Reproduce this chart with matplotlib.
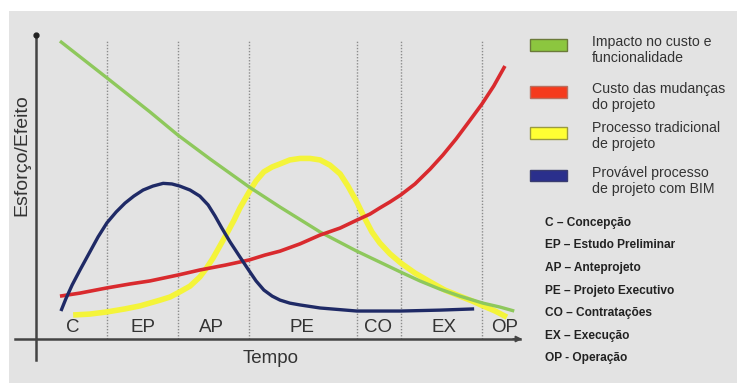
import numpy as np
import matplotlib
matplotlib.use("Agg")
import matplotlib.pyplot as plt
from matplotlib.patches import Rectangle

plt.rcParams["font.family"] = ["Liberation Sans", "DejaVu Sans"]

W, H = 737, 383
X0, Y0, SX, SY = 36, 339, 4.89, 3.04   # pixel origin and scale of the 0-100 chart units

# phases along the time axis
phases = ["C", "EP", "AP", "PE", "CO", "EX", "OP"]
phase_centers = [7.6, 21.9, 35.8, 54.4, 69.9, 83.4, 95.9]
phase_bounds = [14.5, 29.0, 43.6, 65.6, 74.6, 91.2]

# curves read along the time axis (chart units, 0-100)
# impact on cost and functionality
green_x = [4.9, 14.5, 23.3, 29.0, 35.6, 43.6, 49.9, 58.1, 65.6, 70.3, 74.6, 78.5,
           82.6, 86.7, 91.4, 94.9, 97.8]
green_y = [98.0, 85.9, 74.7, 67.1, 59.2, 50.0, 43.4, 35.2, 28.9, 25.3, 22.0, 19.1,
           16.4, 14.1, 11.8, 10.5, 9.2]

# cost of design changes
red_x = [4.9, 9.0, 14.5, 19.2, 23.3, 29.2, 33.5, 38.7, 43.6, 46.8, 49.9, 54.0, 58.1,
         62.2, 65.6, 68.3, 70.3, 72.4, 74.6, 77.5, 80.6, 83.2, 85.9, 88.5, 91.2, 93.6, 95.9]
red_y = [14.1, 15.1, 16.8, 18.1, 19.1, 21.1, 22.7, 24.3, 26.0, 27.6, 28.9, 31.3, 34.2,
         36.5, 39.1, 41.1, 43.1, 45.1, 47.4, 51.0, 55.9, 60.5, 65.8, 71.4, 77.3, 83.2, 89.8]

# traditional design process
yellow_x = [7.6, 11.0, 14.5, 18.2, 21.3, 25.4, 27.4, 29.4, 31.5, 33.5, 34.9, 36.2,
            37.6, 39.1, 40.5, 41.7, 43.6, 45.0, 46.6, 48.3, 49.9, 51.9, 54.0, 56.0,
            58.1, 60.1, 62.2, 63.8, 65.6, 67.3, 68.7, 70.3, 72.4, 74.6, 77.5, 80.6,
            83.6, 86.7, 89.2, 91.4, 93.9, 96.3]
yellow_y = [7.9, 8.2, 8.9, 9.9, 10.9, 12.8, 13.8, 15.5, 17.4, 20.4, 23.4, 26.6,
            30.6, 34.9, 39.1, 43.1, 48.4, 52.0, 55.0, 56.6, 57.6, 58.9, 59.4, 59.4,
            58.9, 57.2, 54.3, 50.3, 45.1, 39.5, 35.2, 31.6, 28.0, 25.0, 21.7, 18.8,
            16.1, 14.1, 12.5, 10.9, 9.2, 7.2]

# design process with BIM
blue_x = [5.1, 6.1, 7.4, 9.0, 11.0, 12.7, 14.5, 16.4, 18.2, 20.0, 21.9, 23.9, 26.0,
          27.8, 29.4, 31.5, 33.5, 35.2, 36.6, 38.0, 39.7, 41.7, 43.6, 45.0, 46.6,
          48.3, 49.9, 51.9, 54.0, 58.1, 65.6, 74.6, 82.6, 89.6]
blue_y = [9.2, 13.2, 17.8, 22.7, 28.6, 33.6, 38.2, 41.8, 44.7, 47.0, 49.0, 50.3, 51.2,
          51.0, 50.3, 49.0, 47.0, 44.1, 40.5, 36.5, 31.9, 27.0, 22.4, 19.1, 16.1,
          14.1, 12.8, 11.8, 11.2, 10.2, 9.2, 9.2, 9.5, 9.9]

legend_labels = ["Impacto no custo e\nfuncionalidade",
                 "Custo das mudanças\ndo projeto",
                 "Processo tradicional\nde projeto",
                 "Provável processo\nde projeto com BIM"]
legend_colors = ["#8cc63f", "#f53a1c", "#ffff33", "#2a2f8c"]
legend_edges = ["#6b7a3a", "#b87060", "#9a9a40", "#3a3d70"]

abbrevs = ["C – Concepção", "EP – Estudo Preliminar", "AP – Anteprojeto",
           "PE – Projeto Executivo", "CO – Contratações", "EX – Execução",
           "OP - Operação"]

fig = plt.figure(figsize=(W / 100, H / 100), dpi=100)
fig.patch.set_facecolor("white")


def fx(px):
    return px / W


def fy(py):
    return 1 - py / H


# grey panel
fig.add_artist(Rectangle((fx(9), 0), 1 - fx(9), fy(11), transform=fig.transFigure,
                         facecolor="#e3e3e3", edgecolor="none", zorder=0))

ax = fig.add_axes([fx(X0), fy(Y0), fx(X0 + 100 * SX) - fx(X0), fy(Y0 - 100 * SY) - fy(Y0)])
ax.set_xlim(0, 100)
ax.set_ylim(0, 100)
ax.set_facecolor("none")
for s in ax.spines.values():
    s.set_visible(False)
ax.set_xticks([])
ax.set_yticks([])

# phase separators
for b in phase_bounds:
    ax.plot([b, b], [0, 98.4], color="#8c8c8c", lw=1.0, ls=(0, (1, 1.2)), zorder=1)

style = dict(solid_capstyle="butt", solid_joinstyle="round")
ax.plot(green_x, green_y, color="#8ec85c", lw=2.4, zorder=3, **style)
ax.plot(red_x, red_y, color="#d92a2e", lw=2.6, zorder=4, **style)
ax.plot(yellow_x, yellow_y, color="#f4f43a", lw=4.0, zorder=2, **style)
ax.plot(blue_x, blue_y, color="#1f2a66", lw=2.4, zorder=5, **style)

# axes drawn as a cross with arrow on time axis
ax.plot([-4.3, 99], [0, 0], color="#444444", lw=1.8, clip_on=False, zorder=6)
ax.annotate("", xy=(100, 0), xytext=(97, 0),
            arrowprops=dict(arrowstyle="-|>", color="#444444", lw=1.2,
                            mutation_scale=9), annotation_clip=False)
ax.plot([0, 0], [-6.9, 100], color="#444444", lw=1.8, clip_on=False, zorder=6)
ax.plot([0], [100], marker="o", ms=3.5, color="#222222", clip_on=False, zorder=7)

for lab, xc in zip(phases, phase_centers):
    ax.text(xc, 3.9, lab, ha="center", va="center", fontsize=13.5, color="#333333")

ax.text(47.9, -6.3, "Tempo", ha="center", va="center", fontsize=13.5,
        color="#333333", clip_on=False)
fig.text(fx(22), fy(155), "Esforço/Efeito", rotation=90, ha="center", va="center",
         fontsize=14, color="#333333")

# legend
box_cy = [45, 92, 133, 175]
text_cy = [50, 97, 136, 181]
for lab, c, ec, by, ty in zip(legend_labels, legend_colors, legend_edges, box_cy, text_cy):
    fig.add_artist(Rectangle((fx(530), fy(by + 5.5)), fx(37), 11 / H,
                             transform=fig.transFigure, facecolor=c, edgecolor=ec,
                             lw=1.0))
    fig.text(fx(592), fy(ty), lab, ha="left", va="center", fontsize=10.2,
             color="#333333", linespacing=1.2)

abbr_y = [223, 245, 268, 291, 313, 336, 358]
for lab, yy in zip(abbrevs, abbr_y):
    fig.text(fx(545), fy(yy), lab, ha="left", va="center", fontsize=8.6,
             fontweight="bold", color="#222222")

fig.savefig("out.png", dpi=100)
